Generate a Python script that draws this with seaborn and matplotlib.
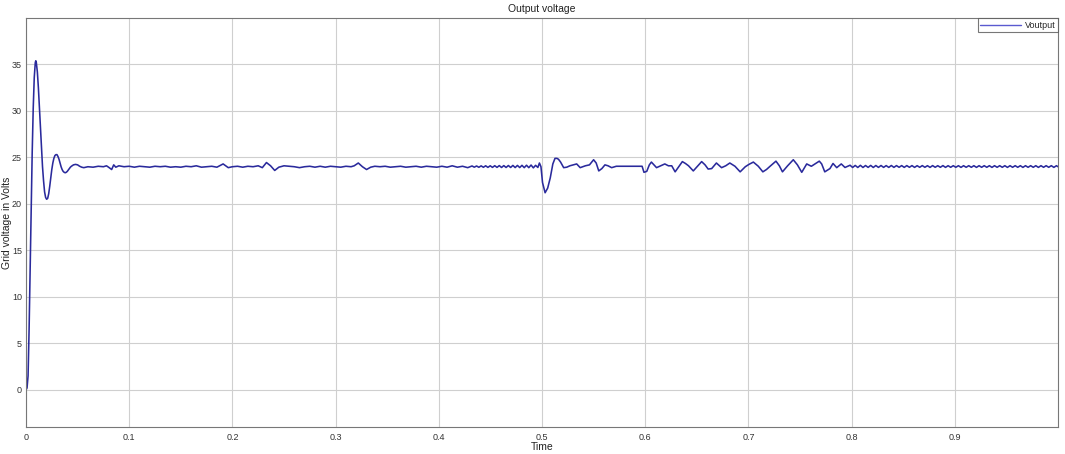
import numpy as np
import pandas as pd
import matplotlib
matplotlib.use("Agg")
import matplotlib.pyplot as plt
import seaborn as sns

# ---- data (time in s, voltage in V) ----
startup_t = [0.000, 0.001, 0.002, 0.003, 0.004, 0.005, 0.006, 0.007, 0.008, 0.009,
             0.0095, 0.010, 0.011, 0.012, 0.013, 0.014, 0.015, 0.016, 0.017, 0.018,
             0.019, 0.020, 0.021, 0.022, 0.023, 0.024, 0.025, 0.026, 0.027, 0.028,
             0.029, 0.030, 0.031, 0.032, 0.033, 0.034, 0.035, 0.036, 0.037, 0.038,
             0.039, 0.040, 0.041, 0.042, 0.043, 0.044, 0.046, 0.048, 0.050, 0.052,
             0.054, 0.056, 0.058, 0.060]
startup_v = [0.0, 0.2, 1.5, 6.5, 13.0, 19.5, 25.5, 30.3, 33.6, 35.2,
             35.4, 35.2, 34.2, 32.5, 30.4, 28.2, 26.0, 24.0, 22.5, 21.3,
             20.7, 20.5, 20.6, 21.1, 21.9, 22.8, 23.7, 24.4, 24.9, 25.2,
             25.3, 25.3, 25.1, 24.8, 24.4, 24.0, 23.7, 23.5, 23.4, 23.35,
             23.4, 23.5, 23.65, 23.8, 23.95, 24.05, 24.2, 24.25, 24.2, 24.05,
             23.95, 23.9, 23.95, 24.0]

steady_t = [0.065, 0.070, 0.075, 0.078, 0.080, 0.083, 0.085, 0.087, 0.090, 0.095,
            0.100, 0.105, 0.110, 0.115, 0.120, 0.125, 0.130, 0.135, 0.140, 0.145,
            0.150, 0.155, 0.160, 0.165, 0.170, 0.175, 0.180, 0.185, 0.191, 0.196,
            0.200, 0.205, 0.210, 0.215, 0.220, 0.225, 0.229, 0.233, 0.237, 0.241,
            0.245, 0.250, 0.255, 0.260, 0.265, 0.270, 0.275, 0.280, 0.285, 0.290,
            0.295, 0.300, 0.305, 0.310, 0.315, 0.318, 0.322, 0.326, 0.330, 0.334,
            0.338, 0.343, 0.348, 0.353, 0.358, 0.363, 0.368, 0.373, 0.378, 0.383,
            0.388, 0.393, 0.398, 0.403, 0.408, 0.413, 0.418, 0.423, 0.428]
steady_v = [23.95, 24.05, 24.0, 24.1, 23.95, 23.7, 24.2, 23.95, 24.1, 24.0,
            24.05, 23.95, 24.05, 24.0, 23.95, 24.05, 24.0, 24.05, 23.95, 24.0,
            23.95, 24.05, 24.0, 24.1, 23.95, 24.0, 24.05, 23.95, 24.3, 23.9,
            24.0, 24.05, 23.95, 24.05, 24.0, 24.1, 23.9, 24.45, 24.1, 23.6,
            23.95, 24.1, 24.05, 24.0, 23.9, 24.0, 24.05, 23.95, 24.05, 23.95,
            24.05, 24.0, 23.95, 24.05, 24.0, 24.1, 24.4, 24.0, 23.7, 23.95,
            24.05, 24.0, 24.05, 23.95, 24.0, 24.05, 23.95, 24.0, 24.05, 23.95,
            24.05, 24.0, 23.95, 24.05, 23.95, 24.1, 23.95, 24.05, 23.9]

prestep_t = [0.4322, 0.4344, 0.4366, 0.4388, 0.4410, 0.4432, 0.4454, 0.4476, 0.4498, 0.4520,
             0.4542, 0.4564, 0.4586, 0.4608, 0.4630, 0.4652, 0.4674, 0.4696, 0.4718, 0.4740,
             0.4762, 0.4784, 0.4806, 0.4828, 0.4850, 0.4872, 0.4894, 0.4916, 0.4938, 0.4960]
prestep_v = [24.08, 23.95, 24.08, 23.94, 24.09, 23.94, 24.10, 23.93, 24.10, 23.93,
             24.11, 23.93, 24.12, 23.92, 24.12, 23.92, 24.13, 23.92, 24.14, 23.91,
             24.14, 23.91, 24.15, 23.90, 24.16, 23.90, 24.18, 23.88, 24.15, 23.92]

step_t = [0.4975, 0.4990, 0.5005, 0.5030, 0.5055, 0.5080, 0.5105, 0.5126, 0.5145, 0.5160,
          0.5180, 0.5210, 0.5240, 0.5270, 0.5305, 0.5336, 0.5370, 0.5420, 0.5460, 0.5500,
          0.5525, 0.5550, 0.5580, 0.5610, 0.5640, 0.5675, 0.5720, 0.5800, 0.5900, 0.5970,
          0.5988, 0.6015, 0.6040, 0.6060, 0.6085, 0.6110, 0.6150, 0.6190, 0.6225, 0.6257,
          0.6290, 0.6325, 0.6360, 0.6390, 0.6420, 0.6466, 0.6510, 0.6547, 0.6580, 0.6610,
          0.6644, 0.6690, 0.6740, 0.6780, 0.6820, 0.6870, 0.6920, 0.6970, 0.7005, 0.7048,
          0.7096, 0.7140, 0.7175, 0.7210, 0.7267, 0.7300, 0.7330, 0.7380, 0.7435, 0.7475,
          0.7517, 0.7565, 0.7610, 0.7687, 0.7710, 0.7740, 0.7790, 0.7820, 0.7856, 0.7900,
          0.7936]
step_v = [24.4, 24.0, 22.3, 21.2, 21.7, 22.8, 24.3, 24.9, 24.9, 24.8,
          24.5, 23.9, 23.95, 24.1, 24.2, 24.3, 23.9, 24.1, 24.2, 24.75,
          24.4, 23.55, 23.8, 24.2, 24.1, 23.9, 24.05, 24.05, 24.05, 24.05,
          23.4, 23.5, 24.2, 24.5, 24.2, 23.9, 24.1, 24.3, 24.1, 24.1,
          23.45, 24.0, 24.55, 24.35, 24.1, 23.55, 24.1, 24.55, 24.2, 23.75,
          23.8, 24.4, 23.9, 24.1, 24.4, 24.05, 23.45, 24.0, 24.25, 24.5,
          24.05, 23.45, 23.7, 24.05, 24.6, 24.1, 23.45, 24.1, 24.75, 24.2,
          23.4, 24.3, 24.05, 24.6, 24.3, 23.45, 23.8, 24.35, 23.9, 24.3,
          23.92]

ripple_t = [0.7985, 0.8010, 0.8035, 0.8060, 0.8085, 0.8110, 0.8135, 0.8160, 0.8185, 0.8210,
            0.8235, 0.8260, 0.8285, 0.8310, 0.8335, 0.8360, 0.8385, 0.8410, 0.8435, 0.8460,
            0.8485, 0.8510, 0.8535, 0.8560, 0.8585, 0.8610, 0.8635, 0.8660, 0.8685, 0.8710,
            0.8735, 0.8760, 0.8785, 0.8810, 0.8835, 0.8860, 0.8885, 0.8910, 0.8935, 0.8960,
            0.8985, 0.9010, 0.9035, 0.9060, 0.9085, 0.9110, 0.9135, 0.9160, 0.9185, 0.9210,
            0.9235, 0.9260, 0.9285, 0.9310, 0.9335, 0.9360, 0.9385, 0.9410, 0.9435, 0.9460,
            0.9485, 0.9510, 0.9535, 0.9560, 0.9585, 0.9610, 0.9635, 0.9660, 0.9685, 0.9710,
            0.9735, 0.9760, 0.9785, 0.9810, 0.9835, 0.9860, 0.9885, 0.9910, 0.9935, 0.9960,
            0.9985, 1.0000]
ripple_v = [24.16, 23.92, 24.14, 23.92, 24.15, 23.92, 24.13, 23.93, 24.14, 23.92,
            24.13, 23.93, 24.13, 23.93, 24.12, 23.93, 24.13, 23.93, 24.12, 23.94,
            24.12, 23.93, 24.12, 23.94, 24.12, 23.93, 24.11, 23.94, 24.12, 23.94,
            24.11, 23.93, 24.12, 23.94, 24.11, 23.94, 24.12, 23.93, 24.11, 23.94,
            24.11, 23.94, 24.11, 23.93, 24.11, 23.94, 24.11, 23.94, 24.11, 23.93,
            24.11, 23.94, 24.11, 23.94, 24.11, 23.93, 24.11, 23.94, 24.11, 23.94,
            24.11, 23.93, 24.11, 23.94, 24.11, 23.94, 24.11, 23.93, 24.11, 23.94,
            24.11, 23.94, 24.11, 23.93, 24.11, 23.94, 24.11, 23.94, 24.11, 23.93,
            24.11, 24.0]

x_ticks = [0, 0.1, 0.2, 0.3, 0.4, 0.5, 0.6, 0.7, 0.8, 0.9]
x_tick_labels = ["0", "0.1", "0.2", "0.3", "0.4", "0.5", "0.6", "0.7", "0.8", "0.9"]
y_ticks = [0, 5, 10, 15, 20, 25, 30, 35]

time = startup_t + steady_t + prestep_t + step_t + ripple_t
volt = startup_v + steady_v + prestep_v + step_v + ripple_v
df = pd.DataFrame({"Time": time, "Voltage": volt, "series": "Voutput"})

# ---- plotting ----
sns.set_theme(style="white")
plt.rcParams["font.family"] = ["Liberation Sans", "DejaVu Sans"]

fig = plt.figure(figsize=(10.65, 4.54), dpi=100)
ax = fig.add_axes([26 / 1065, 1 - 427 / 454, (1058 - 26) / 1065, (427 - 18) / 454])

sns.lineplot(data=df, x="Time", y="Voltage", hue="series", palette=["#2a2a9c"],
             estimator=None, sort=False, linewidth=1.15, ax=ax)

ax.set_xlim(0, 1.0)
ax.set_ylim(-4, 40)
ax.set_xticks(x_ticks)
ax.set_xticklabels(x_tick_labels)
ax.set_yticks(y_ticks)
ax.grid(True, color="#cfcfcf", linewidth=0.8, linestyle="-")
ax.set_axisbelow(True)
ax.tick_params(axis="both", direction="in", length=3, width=0.6, colors="#7a7a7a",
               labelsize=6.5, labelcolor="#333333")
ax.tick_params(axis="x", pad=4)
ax.tick_params(axis="y", pad=3)
for sp in ax.spines.values():
    sp.set_color("#777777")
    sp.set_linewidth(0.8)

ax.set_title("Output voltage", fontsize=7.5, color="#222222", pad=4)
ax.set_xlabel("Time", fontsize=7.5, color="#222222", labelpad=0)
ax.set_ylabel("Grid voltage in Volts", fontsize=7.5, color="#222222")
ax.yaxis.set_label_coords(-0.0135, 0.5)

leg = ax.legend(loc="upper right", fontsize=6.5, frameon=True, fancybox=False,
                borderpad=0.3, handlelength=4.5, handletextpad=0.4,
                borderaxespad=0.0, title=None)
leg.get_frame().set_edgecolor("#555555")
leg.get_frame().set_linewidth(0.8)
for line in leg.get_lines():
    line.set_color("#5a5ad0")
    line.set_linewidth(1.0)

fig.savefig("out.png", dpi=100, facecolor="white")
